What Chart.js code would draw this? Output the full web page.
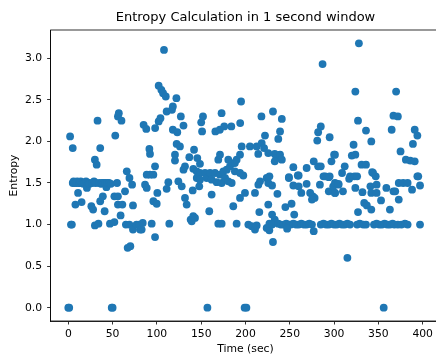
<!DOCTYPE html>
<html>
<head>
<meta charset="utf-8">
<script src="https://cdn.jsdelivr.net/npm/chart.js@4/dist/chart.umd.min.js"></script>
<style>
html,body{margin:0;padding:0;background:#fff;overflow:hidden;width:436px;height:356px;}
canvas{display:block;}
</style>
</head>
<body>
<canvas id="c" width="448" height="356"></canvas>
<script>
const chartTitle = "Entropy Calculation in 1 second window";
const xLabel = "Time (sec)";
const yLabel = "Entropy";
const xTicks = [0, 50, 100, 150, 200, 250, 300, 350, 400];
const yTicks = [0.0, 0.5, 1.0, 1.5, 2.0, 2.5, 3.0];

// time (sec) of each window
const times = [
0,1,2,3,4,5,5,6,7,8,9,10,11,12,13,14,15,16,17,18,19,20,21,22,23,24,26,27,28,29,30,30,31,32,33,34,35,36,36,37,38,39,40,41,42,43,44,46,47,48,49,50,
52,52,53,55,56,56,56,57,59,60,61,64,65,66,67,69,69,70,72,73,73,77,80,81,
82.8,84,86.6,88.5,88.5,91.5,92.2,92.2,94.1,96,96,97.9,97.9,99.8,100.5,111,112.9,114,120.4,120.4,122.3,124.2,126,128,130,131.7,131.7,133.6,136.6,138.1,139.3,140.4,141,141.1,141.9,143,144.9,145,145.6,147.8,148.6,148.6,148.6,154.3,156.2,159.1,160,161.8,161.8,165.6,167.5,169.3,169.3,171.2,171.2,173.1,173.1,175,176.9,178.8,180.6,180.6,182.5,184.4,184.4,186.2,188,188,190,190,193.8,193.8,193.8,195.7,197.5,199.4,203.2,205,207,210.7,210.7,212.6,212.6,214.4,214.5,215.6,216.4,218.3,221,223.9,223.9,225.7,225.7,225.7,226.9,
85,88,98,102,102,104,105,107,108,110,111,117,118,122,127,130,118,123,152,150,151,166,171,173,176,184,195,194,218,222,
157,199,201,
287,231,241,239,237,233,235,239,241,233,285,282,281,295,300,297,277,282,285,254,259,249,269,227,290,295,
230,236,249,260,254,260,263,269,273,276,278,275,284,288,294,294,299,301,305,230,233,245,252,255,
227,230,237,240,243,246,249,251,254,257,260,263,266,269,272,275,285,288,291,294,297,300,
247,277,231,
328,324,370,327,367,372,336,365,391,394,342,389,322,301,320,324,375,381,386,391,312,331,336,309,344,347,318,323,394,
326,317,343,301,305,310,301,324,332,341,342,348,348,359,353,367,369,373,378,383,388,395,397,373,334,337,342,327,363,
303,306,309,312,315,318,326,329,333,336,345,348,351,354,357,360,363,366,368,372,376,380,383,397,
315,356
];
// entropy value of each window
const entropy = [
0,0,2.06,1.0,1.0,1.92,1.5,1.52,1.5,1.24,1.5,1.52,1.38,1.5,1.5,1.52,1.27,1.5,1.49,1.5,1.5,1.52,1.44,1.5,1.5,1.49,1.22,1.5,1.18,1.52,1.78,0.99,1.5,1.72,2.25,1.01,1.5,1.92,1.28,1.49,1.5,1.34,1.5,1.16,1.5,1.45,1.5,1.5,1.01,1.49,0,0,
1.03,1.34,2.07,1.5,2.3,1.34,1.24,2.34,1.11,2.25,1.24,1.4,1.0,1.64,0.72,1.56,1.0,0.74,1.48,1.23,0.94,1.0,1.0,0.94,
0.94,1.02,1.48,1.44,1.60,1.91,1.85,1.60,1.01,1.60,1.28,1.70,0.85,1.25,1.38,1.43,1.51,1.01,1.84,1.77,1.97,1.52,1.94,1.46,1.66,1.70,1.32,1.24,1.81,1.06,1.04,1.41,1.10,1.67,1.90,1.08,1.64,1.56,1.80,1.46,1.73,1.62,1.54,1.62,1.56,1.16,1.62,1.54,1.36,1.62,1.51,1.78,1.01,1.84,1.60,1.50,1.01,1.64,1.56,1.66,1.78,1.52,1.70,1.74,1.50,1.22,1.74,1.64,1.78,1.01,1.84,1.62,1.32,1.94,1.59,1.38,1.0,1.94,0.98,1.38,0.94,1.94,0.99,1.85,1.48,1.15,1.52,1.98,1.92,1.56,0.96,1.86,1.50,1.24,0.93,
2.2,2.15,2.16,2.67,2.24,2.28,2.62,2.58,3.10,2.54,2.36,2.38,2.42,2.52,2.30,2.19,2.14,2.11,2.30,2.23,2.12,2.12,2.14,2.34,2.18,2.18,2.48,2.22,2.30,2.07,
0,0,0,
2.93,2.36,2.27,2.12,2.03,1.85,1.80,1.84,1.78,1.76,2.18,2.11,2.01,2.05,1.84,1.76,1.76,1.70,1.70,1.69,1.59,1.57,1.68,1.58,1.58,1.58,
1.47,1.37,1.56,1.59,1.47,1.46,1.38,1.49,1.38,1.34,1.32,1.30,1.48,1.58,1.57,1.40,1.46,1.38,1.48,1.12,1.06,1.21,1.25,1.12,
1.01,1.0,1.01,1.0,1.0,1.01,1.0,1.0,1.01,1.0,1.0,1.01,1.0,1.0,1.01,1.0,1.0,1.01,1.0,1.0,1.01,1.0,
0.95,0.92,0.79,
3.18,2.60,2.60,2.25,2.31,2.30,2.13,2.14,2.14,2.07,2.0,1.97,1.96,1.84,1.83,1.84,1.88,1.78,1.77,1.76,1.70,1.72,1.72,1.62,1.62,1.58,1.58,1.58,1.58,
1.58,1.55,1.63,1.50,1.49,1.40,1.38,1.44,1.39,1.46,1.38,1.48,1.38,1.44,1.29,1.40,1.40,1.50,1.50,1.50,1.42,1.58,1.47,1.30,1.26,1.23,1.18,1.15,1.18,
1.0,1.01,1.0,1.0,1.01,1.0,1.0,1.01,1.0,1.0,1.0,1.01,1.0,1.0,1.01,1.0,1.0,1.01,1.0,1.0,1.0,1.01,1.0,1.0,
0.60,0
];

const points = times.map((t, i) => ({x: t, y: entropy[i]}));

const frame = {
  id: 'frame',
  afterDraw(chart) {
    const {ctx, chartArea: a} = chart;
    ctx.save();
    ctx.strokeStyle = '#000';
    ctx.lineWidth = 0.8;
    ctx.strokeRect(a.left, a.top, a.right - a.left, a.bottom - a.top);
    ctx.fillStyle = '#000';
    ctx.font = '13px "DejaVu Sans"';
    ctx.textAlign = 'center';
    ctx.textBaseline = 'middle';
    ctx.fillText(chartTitle, (a.left + a.right) / 2, 18);
    ctx.restore();
  }
};

const tickFont = {family: 'DejaVu Sans', size: 10.8};

new Chart(document.getElementById('c'), {
  type: 'scatter',
  data: {
    datasets: [{
      data: points,
      backgroundColor: '#1f77b4',
      borderWidth: 0,
      pointRadius: 3.9,
      pointHoverRadius: 3.9
    }]
  },
  options: {
    responsive: false,
    animation: false,
    events: [],
    layout: {padding: {top: 30, right: 7.6, left: 0, bottom: 0}},
    plugins: {legend: {display: false}, title: {display: false}, tooltip: {enabled: false}},
    scales: {
      x: {
        type: 'linear',
        min: -20, max: 420,
        afterFit(s) { s.height = 35; },
        afterBuildTicks(s) { s.ticks = xTicks.map(v => ({value: v})); },
        grid: {display: true, drawOnChartArea: false, drawTicks: true, tickLength: 3.5, color: '#000', lineWidth: 0.8},
        border: {display: true, color: '#000', width: 0.8},
        ticks: {font: tickFont, color: '#000', padding: 3, maxRotation: 0, autoSkip: false, callback: v => String(v)},
        title: {display: true, text: xLabel, font: tickFont, color: '#000', padding: {top: 0, bottom: 0.5}}
      },
      y: {
        type: 'linear',
        min: -0.16, max: 3.34,
        afterFit(s) { s.width = 50.6; },
        afterBuildTicks(s) { s.ticks = yTicks.map(v => ({value: v})); },
        grid: {display: true, drawOnChartArea: false, drawTicks: true, tickLength: 3.5, color: '#000', lineWidth: 0.8},
        border: {display: true, color: '#000', width: 0.8},
        ticks: {font: tickFont, color: '#000', padding: 5, autoSkip: false, callback: v => v.toFixed(1)},
        title: {display: true, text: yLabel, font: tickFont, color: '#000', padding: {top: 7.5, bottom: 0}}
      }
    }
  },
  plugins: [frame]
});
</script>
</body>
</html>
